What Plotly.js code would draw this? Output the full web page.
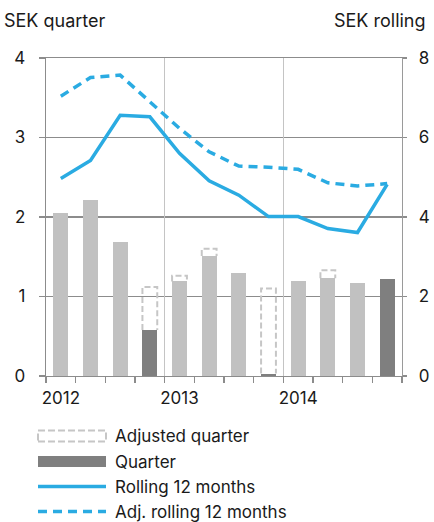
<!DOCTYPE html>
<html>
<head>
<meta charset="utf-8">
<script src="https://cdn.plot.ly/plotly-3.0.1.min.js"></script>
<style>html,body{margin:0;padding:0;background:#fff;}#chart{width:434px;height:522px;}</style>
</head>
<body>
<div id="chart"></div>
<script>
// ---- data ----
const quarters = ['2012 Q1','2012 Q2','2012 Q3','2012 Q4','2013 Q1','2013 Q2','2013 Q3','2013 Q4','2014 Q1','2014 Q2','2014 Q3','2014 Q4'];
const quarterValues = [2.05, 2.21, 1.68, 0.58, 1.19, 1.51, 1.30, 0.03, 1.20, 1.23, 1.17, 1.22];
const adjustedQuarter = [null, null, null, 1.12, 1.26, 1.60, null, 1.10, null, 1.33, null, null];
const rolling12 = [4.97, 5.42, 6.56, 6.52, 5.60, 4.91, 4.55, 4.01, 4.01, 3.71, 3.61, 4.82];
const adjRolling12 = [7.04, 7.51, 7.57, 6.90, 6.23, 5.64, 5.28, 5.25, 5.20, 4.86, 4.78, 4.84];
const yearLabels = ['2012', '2013', '2014'];
const legendLabels = ['Adjusted quarter', 'Quarter', 'Rolling 12 months', 'Adj. rolling 12 months'];

// ---- styles ----
const W = 434, H = 522;
const M = {l: 46, r: 32, t: 58, b: 146};
const BLUE = '#2aabe2', LIGHT = '#c1c1c1', DARK = '#7f7f7f', OUTLINE = '#c6c6c6', GRID = '#8c8c8c', TEXT = '#1a1a1a';
const FONT = 'Inter, "Liberation Sans", Arial, sans-serif';
const BARW = 0.5;

const xs = quarters.map((_, i) => i + 0.5);
const barColors = quarters.map(q => q.endsWith('Q4') ? DARK : LIGHT);
const yearTicks = yearLabels.map(y => quarters.indexOf(y + ' Q1') + 0.5);
const yearBounds = yearLabels.slice(1).map(y => quarters.indexOf(y + ' Q1'));

// dashed outline of adjusted quarter (portion above the reported bar)
const ox = [], oy = [];
adjustedQuarter.forEach((v, i) => {
  if (v === null) return;
  const b = quarterValues[i];
  ox.push(xs[i] - BARW/2, xs[i] - BARW/2, xs[i] + BARW/2, xs[i] + BARW/2, null);
  oy.push(b, v, v, b, null);
});

const traces = [
  {type: 'bar', x: xs, y: quarterValues, width: BARW, marker: {color: barColors, line: {width: 0}},
   xaxis: 'x', yaxis: 'y', showlegend: false, hoverinfo: 'skip'},
  {type: 'scatter', mode: 'lines', x: ox, y: oy, xaxis: 'x2', yaxis: 'y',
   line: {color: OUTLINE, width: 2, dash: '6px,3px'}, connectgaps: false, showlegend: false, hoverinfo: 'skip'},
  {type: 'scatter', mode: 'lines', x: xs, y: adjRolling12, xaxis: 'x', yaxis: 'y2',
   line: {color: BLUE, width: 3.5, dash: '9px,6px'}, showlegend: false},
  {type: 'scatter', mode: 'lines', x: xs, y: rolling12, xaxis: 'x', yaxis: 'y2',
   line: {color: BLUE, width: 3.5}, showlegend: false}
];

const plotW = W - M.l - M.r, plotH = H - M.t - M.b;
const px = x => (x - M.l) / plotW;
const py = y => (H - M.b - y) / plotH;

const legendRows = [436, 461.5, 486.5, 511.5];
const symX0 = px(38), symX1 = px(106), textX = px(113);

const shapes = [
  {type: 'rect', xref: 'paper', yref: 'paper', x0: symX0, x1: symX1, y0: py(legendRows[0] + 5.5), y1: py(legendRows[0] - 5.5),
   line: {color: OUTLINE, width: 2, dash: '7px,3px'}, fillcolor: 'rgba(0,0,0,0)'},
  {type: 'rect', xref: 'paper', yref: 'paper', x0: symX0, x1: symX1, y0: py(legendRows[1] + 5.5), y1: py(legendRows[1] - 5.5),
   line: {width: 0}, fillcolor: DARK},
  {type: 'line', xref: 'paper', yref: 'paper', x0: symX0, x1: symX1, y0: py(legendRows[2]), y1: py(legendRows[2]),
   line: {color: BLUE, width: 3.5}},
  {type: 'line', xref: 'paper', yref: 'paper', x0: symX0, x1: symX1, y0: py(legendRows[3]), y1: py(legendRows[3]),
   line: {color: BLUE, width: 3.5, dash: '9px,6px'}}
];

const annotations = legendLabels.map((t, i) => ({
  text: t, xref: 'paper', yref: 'paper', x: textX, y: py(legendRows[i]), xanchor: 'left', yanchor: 'middle',
  showarrow: false, font: {family: FONT, size: 17, color: TEXT}
}));
annotations.push(
  {text: 'SEK quarter', xref: 'paper', yref: 'paper', x: px(2), y: py(20), xanchor: 'left', yanchor: 'middle',
   showarrow: false, font: {family: FONT, size: 18, color: TEXT}},
  {text: 'SEK rolling', xref: 'paper', yref: 'paper', x: px(428), y: py(20), xanchor: 'right', yanchor: 'middle',
   showarrow: false, font: {family: FONT, size: 18, color: TEXT}}
);

const layout = {
  width: W, height: H, margin: M, paper_bgcolor: '#fff', plot_bgcolor: '#fff',
  font: {family: FONT, size: 17, color: TEXT},
  showlegend: false, bargap: 0,
  xaxis: {range: [0, quarters.length], tickmode: 'array', tickvals: yearTicks, ticktext: yearLabels,
    ticks: '', showgrid: false, zeroline: false, showline: true, mirror: true, linecolor: GRID, linewidth: 1.3,
    tickfont: {size: 17, color: TEXT}, ticklabelstandoff: 6,
    minor: {tickmode: 'linear', tick0: 0, dtick: 1, ticks: 'outside', ticklen: 6, tickcolor: GRID, tickwidth: 1.3, showgrid: false}},
  xaxis2: {overlaying: 'x', range: [0, quarters.length], tickmode: 'array', tickvals: yearBounds,
    showgrid: true, gridcolor: '#c4c4c4', gridwidth: 1.5, showticklabels: false, ticks: '', zeroline: false, showline: false},
  yaxis: {range: [0, 4], tickmode: 'linear', tick0: 0, dtick: 1, showgrid: true, gridcolor: GRID, gridwidth: 1.3,
    ticks: 'outside', ticklen: 6, tickcolor: GRID, tickwidth: 1.3, showline: true, linecolor: GRID, linewidth: 1.3,
    zeroline: false, tickfont: {size: 17, color: TEXT}, ticklabelstandoff: 10},
  yaxis2: {range: [0, 8], tickmode: 'linear', tick0: 0, dtick: 2, overlaying: 'y', side: 'right', showgrid: false,
    ticks: 'outside', ticklen: 4, tickcolor: GRID, tickwidth: 1.3, showline: true, linecolor: '#9a9a9a', linewidth: 1.3,
    zeroline: false, tickfont: {size: 17, color: TEXT}, ticklabelstandoff: 8},
  shapes: shapes, annotations: annotations
};

Plotly.newPlot('chart', traces, layout, {staticPlot: true, displayModeBar: false});
</script>
</body>
</html>
